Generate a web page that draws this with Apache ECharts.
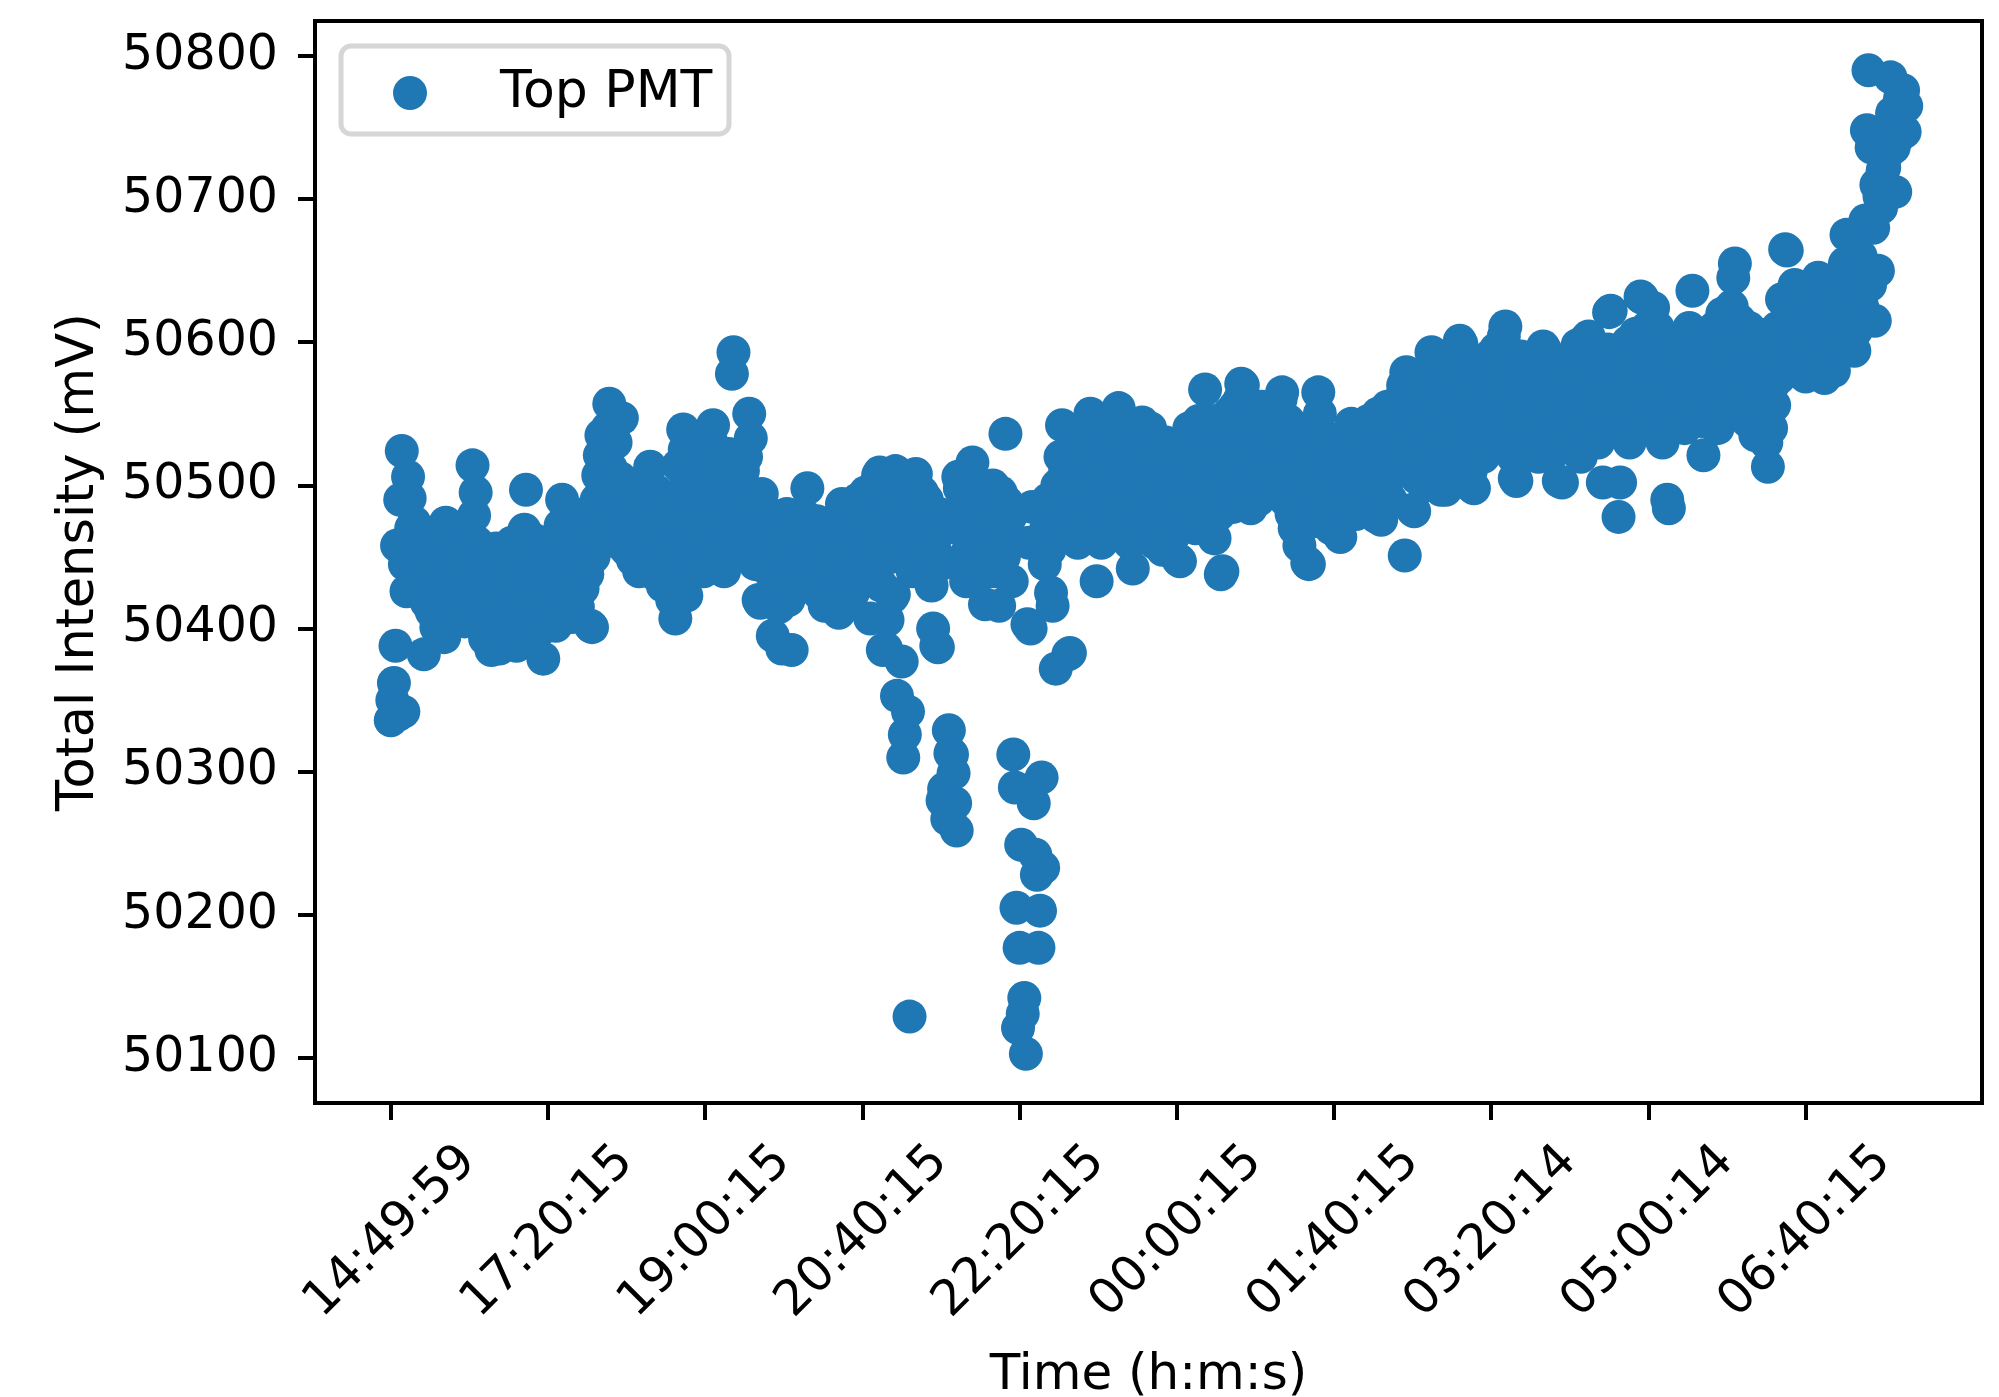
<!DOCTYPE html>
<html>
<head>
<meta charset="utf-8">
<script src="https://cdn.jsdelivr.net/npm/echarts@6/dist/echarts.min.js"></script>
<style>
html,body{margin:0;padding:0;background:#fff;}
#container{width:1999px;height:1397px;}
</style>
</head>
<body>
<div id="container"></div>
<script>
// sample index of each labelled tick, and its time label
var tickIndex = [0, 100, 200, 300, 400, 500, 600, 700, 800, 900];
var tickLabels = ['14:49:59', '17:20:15', '19:00:15', '20:40:15', '22:20:15',
                  '00:00:15', '01:40:15', '03:20:14', '05:00:14', '06:40:15'];
var yTicks = [50100, 50200, 50300, 50400, 50500, 50600, 50700, 50800];

// Top PMT total intensity (mV), one value per sample
var intensity = [
  50336,50350,50362,50388,50458,50340,50490,50524,50342,50445,50426,50506,50491,50470,50455,50474,50440,50428,50450,50462,
  50430,50382,50445,50418,50460,50436,50412,50452,50425,50401,50440,50468,50420,50448,50394,50474,50432,50455,50415,50442,
  50428,50456,50410,50465,50438,50420,50450,50405,50470,50432,50445,50418,50514,50479,50495,50460,50426,50440,50412,50452,
  50393,50430,50448,50412,50385,50440,50422,50456,50405,50386,50435,50415,50450,50398,50428,50442,50408,50460,50420,50395,
  50388,50430,50452,50410,50440,50469,50497,50425,50404,50445,50418,50462,50395,50436,50412,50450,50400,50379,50428,50442,
  50420,50455,50438,50410,50462,50402,50446,50430,50472,50490,50418,50458,50440,50425,50466,50408,50450,50435,50470,50415,
  50445,50462,50428,50480,50455,50438,50468,50402,50401,50450,50470,50490,50507,50521,50535,50495,50478,50520,50540,50557,
  50512,50498,50470,50530,50485,50460,50505,50547,50492,50476,50455,50500,50468,50482,50448,50495,50462,50478,50440,50470,
  50458,50490,50445,50475,50500,50513,50482,50465,50438,50496,50470,50452,50488,50430,50478,50462,50442,50485,50455,50420,
  50430,50407,50460,50514,50480,50495,50539,50525,50423,50470,50500,50445,50485,50510,50465,50453,50490,50475,50505,50440,
  50488,50460,50520,50475,50530,50542,50498,50450,50512,50482,50471,50505,50440,50495,50465,50522,50510,50578,50593,50485,
  50500,50470,50490,50455,50510,50480,50520,50495,50550,50533,50462,50488,50445,50475,50420,50418,50494,50468,50450,50482,
  50460,50440,50475,50395,50455,50430,50470,50415,50448,50386,50465,50438,50480,50420,50452,50385,50445,50472,50428,50460,
  50440,50465,50450,50430,50478,50498,50455,50470,50435,50460,50445,50475,50425,50458,50440,50468,50416,50450,50472,50438,
  50455,50440,50474,50462,50474,50411,50415,50487,50448,50470,50432,50460,50480,50445,50425,50468,50452,50490,50438,50475,
  50480,50460,50495,50445,50470,50407,50488,50455,50500,50475,50507,50509,50430,50385,50465,50386,50406,50490,50450,50422,
  50424,50510,50353,50480,50455,50377,50310,50326,50495,50342,50129,50470,50440,50500,50508,50465,50485,50450,50495,50472,
  50460,50490,50440,50475,50430,50400,50455,50388,50387,50480,50445,50280,50288,50470,50267,50329,50313,50312,50299,50278,
  50259,50506,50498,50470,50485,50450,50433,50492,50460,50478,50516,50500,50445,50488,50465,50438,50480,50455,50417,50470,
  50475,50490,50455,50500,50440,50482,50465,50416,50495,50470,50450,50536,50488,50460,50478,50433,50312,50289,50205,50121,
  50177,50249,50131,50142,50103,50403,50460,50400,50485,50278,50242,50228,50177,50203,50296,50233,50445,50470,50490,50455,
  50425,50416,50480,50372,50500,50465,50520,50542,50490,50510,50470,50382,50383,50495,50525,50478,50505,50460,50515,50488,
  50500,50530,50478,50515,50490,50550,50549,50470,50505,50433,50520,50485,50460,50510,50495,50535,50475,50500,50522,50488,
  50510,50480,50530,50554,50495,50470,50520,50505,50540,50485,50460,50515,50442,50490,50525,50475,50500,50535,50544,50480,
  50520,50495,50470,50540,50510,50485,50460,50500,50525,50478,50512,50455,50490,50530,50470,50505,50488,50515,50465,50498,
  50490,50448,50447,50510,50530,50475,50520,50495,50540,50505,50485,50525,50470,50515,50545,50500,50480,50535,50567,50510,
  50530,50500,50545,50515,50463,50490,50520,50480,50438,50440,50510,50535,50495,50550,50505,50525,50485,50555,50500,50540,
  50560,50571,50570,50520,50545,50500,50535,50484,50515,50550,50505,50540,50490,50525,50555,50510,50530,50495,50545,50520,
  50535,50510,50550,50525,50500,50540,50560,50565,50515,50490,50530,50545,50505,50480,50520,50470,50535,50495,50458,50525,
  50510,50490,50530,50446,50445,50500,50520,50540,50475,50515,50565,50550,50536,50505,50480,50525,50495,50510,50470,50530,
  50500,50520,50485,50466,50464,50510,50530,50495,50515,50490,50538,50543,50505,50525,50480,50515,50535,50500,50520,50490,
  50525,50505,50545,50515,50535,50495,50520,50478,50550,50530,50476,50510,50540,50500,50555,50525,50490,50545,50515,50535,
  50540,50510,50560,50525,50570,50451,50579,50535,50578,50515,50483,50482,50550,50505,50530,50565,50520,50545,50500,50555,
  50560,50540,50593,50592,50525,50575,50510,50555,50497,50545,50530,50497,50570,50520,50550,50535,50580,50515,50560,50545,
  50601,50599,50560,50540,50580,50525,50565,50510,50499,50498,50550,50585,50530,50570,50545,50520,50575,50555,50535,50590,
  50560,50580,50540,50595,50565,50550,50590,50575,50604,50611,50545,50585,50530,50560,50520,50505,50503,50570,50550,50590,
  50575,50540,50560,50585,50525,50550,50580,50535,50565,50590,50520,50555,50570,50597,50595,50545,50580,50530,50560,50575,
  50545,50570,50525,50503,50560,50502,50585,50540,50575,50555,50530,50590,50565,50545,50580,50598,50550,50520,50570,50585,
  50560,50603,50604,50575,50540,50590,50555,50580,50530,50565,50545,50502,50585,50560,50595,50621,50622,50550,50575,50540,
  50565,50478,50502,50590,50545,50575,50555,50600,50530,50585,50560,50570,50606,50540,50595,50632,50631,50580,50550,50610,
  50590,50565,50600,50624,50575,50545,50610,50555,50585,50530,50595,50560,50490,50484,50570,50540,50600,50580,50550,50590,
  50575,50555,50595,50540,50585,50565,50610,50603,50636,50580,50550,50600,50570,50590,50545,50521,50580,50560,50605,50575,
  50590,50560,50610,50575,50540,50600,50585,50620,50555,50595,50570,50605,50580,50625,50645,50655,50590,50560,50615,50575,
  50600,50570,50590,50545,50610,50580,50560,50600,50535,50575,50590,50550,50565,50605,50540,50530,50513,50585,50540,50570,
  50556,50590,50610,50575,50600,50630,50585,50665,50664,50620,50595,50580,50610,50640,50600,50625,50590,50615,50605,50635,
  50576,50579,50610,50595,50630,50600,50620,50585,50645,50605,50625,50590,50575,50615,50640,50600,50635,50595,50580,50620,
  50610,50640,50595,50625,50634,50655,50675,50620,50600,50645,50615,50594,50608,50630,50646,50660,50625,50637,50685,50748,
  50790,50640,50736,50680,50615,50710,50650,50702,50694,50720,50722,50730,50745,50740,50785,50760,50736,50705,50742,50755,
  50770,50762,50776,50747,50765
];

var points = intensity.map(function (v, i) { return [i, v]; });
var last = intensity.length - 1;
var vMin = Math.min.apply(null, intensity);
var vMax = Math.max.apply(null, intensity);
var vPad = (vMax - vMin) * 0.05;

var font = 'DejaVu Sans';
var myChart = echarts.init(document.getElementById('container'));
var option = {
    animation: false,
    backgroundColor: '#fff',
    grid: {
        left: 315, top: 21, width: 1667, height: 1082,
        containLabel: false, outerBoundsMode: 'none',
        show: true, borderColor: '#000', borderWidth: 4
    },
    graphic: [{
        type: 'rect', z: 3,
        shape: { x: 341, y: 46, width: 388, height: 88, r: 10 },
        style: { fill: '#fff', stroke: '#d6d6d6', lineWidth: 5 }
    }],
    legend: {
        z: 10,
        left: 393, top: 67,
        padding: 0,
        icon: 'circle',
        itemWidth: 34, itemHeight: 34,
        textStyle: { fontSize: 52, fontFamily: font, color: '#000', padding: [0, 0, 0, 68] },
        data: ['Top PMT']
    },
    xAxis: {
        type: 'value',
        min: -0.05 * last, max: 1.05 * last,
        axisLine: { show: false, onZero: false },
        splitLine: { show: false },
        axisTick: { show: true, length: 17, customValues: tickIndex, lineStyle: { color: '#000', width: 4 } },
        axisLabel: {
            customValues: tickIndex,
            formatter: function (v) { return tickLabels[tickIndex.indexOf(v)]; },
            rotate: 45, align: 'center', verticalAlign: 'middle',
            margin: 129, fontSize: 49, fontFamily: font, color: '#000'
        },
        name: 'Time (h:m:s)',
        nameLocation: 'middle',
        nameGap: 273,
        nameTextStyle: { fontSize: 50, fontFamily: font, color: '#000', verticalAlign: 'middle' }
    },
    yAxis: {
        type: 'value',
        min: vMin - vPad, max: vMax + vPad,
        axisLine: { show: false, onZero: false },
        splitLine: { show: false },
        axisTick: { show: true, length: 17, customValues: yTicks, lineStyle: { color: '#000', width: 4 } },
        axisLabel: {
            customValues: yTicks,
            formatter: function (v) { return String(v); },
            margin: 37, fontSize: 49, fontFamily: font, color: '#000'
        },
        name: 'Total Intensity (mV)',
        nameLocation: 'middle',
        nameGap: 235,
        nameTextStyle: { fontSize: 51, fontFamily: font, color: '#000', verticalAlign: 'middle' }
    },
    series: [{
        name: 'Top PMT',
        type: 'scatter',
        symbol: 'circle',
        symbolSize: 34,
        itemStyle: { color: '#1f77b4', opacity: 1 },
        data: points
    }]
};
myChart.setOption(option);
</script>
</body>
</html>
